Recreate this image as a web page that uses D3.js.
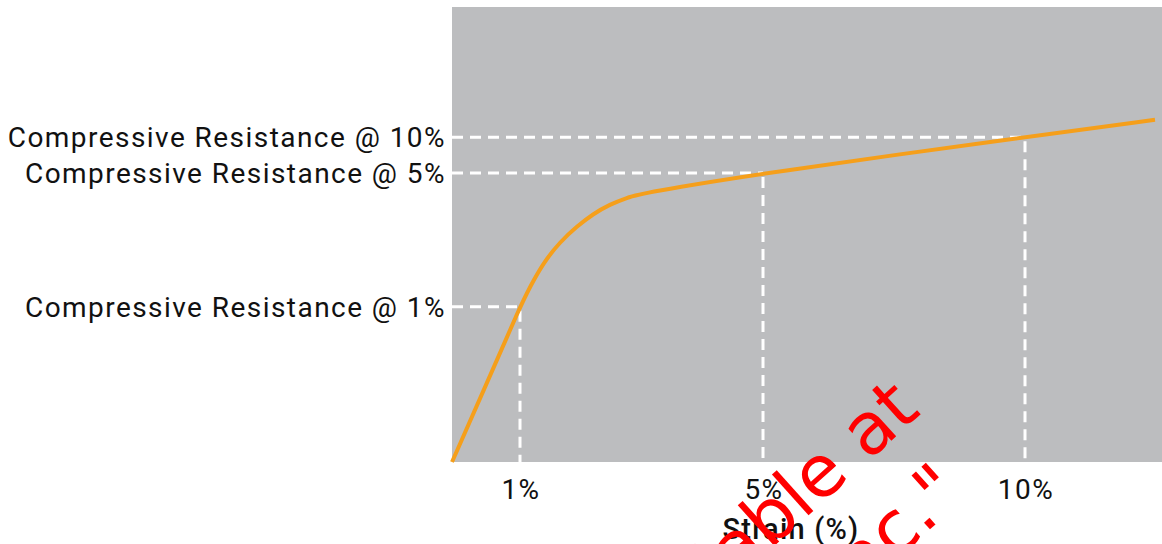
<!DOCTYPE html>
<html>
<head>
<meta charset="utf-8">
<script src="https://cdn.jsdelivr.net/npm/d3@7"></script>
<style>
  html, body { margin: 0; padding: 0; background: #fff; }
  svg { display: block; }
  .lbl  { font-family: Roboto, "Noto Sans", sans-serif; font-size: 28px; fill: #111; letter-spacing: 1.45px; }
  .tick { font-family: Roboto, "Noto Sans", sans-serif; font-size: 28px; fill: #111; letter-spacing: 1.5px; }
  .axt  { font-family: Roboto, "Noto Sans", sans-serif; font-size: 29px; font-weight: 500; fill: #111; letter-spacing: 1.2px; }
  .guide { stroke: #fff; stroke-width: 3; stroke-dasharray: 11 7; fill: none; }
  .wm { font-family: "DejaVu Sans", sans-serif; font-size: 72px; fill: #ff0000; }
</style>
</head>
<body>
<svg id="chart"></svg>
<script>
/* Stress–strain sketch: linear start, knee, then a slow linear rise.
   Strain axis is schematic (not uniform), so x uses a piecewise scale. */

// curve (resistance in % of plot height)
const strain     = [0, 0.5, 1, 1.165, 1.38, 1.66, 1.94, 2.2, 2.48, 2.76, 3.02, 5, 10, 12.5];
const resistance = [0, 16.9, 34.1, 38.5, 43.7, 48.4, 51.8, 54.5, 56.6, 58.1, 59.1, 63.5, 71.4, 75.2];

// marked strains and their labels
const markStrain = [1, 5, 10];
const tickLabels = ['1%', '5%', '10%'];
const markLabels = ['Compressive Resistance @ 1%', 'Compressive Resistance @ 5%', 'Compressive Resistance @ 10%'];
const xTitle = 'Strain (%)';

// schematic axis breaks: equal-ish spacing per marked strain
const xBreaks = [0, 1, 5, 10, 12.5];

// watermark lines (only the tail end falls inside the frame)
const wmLines = ['Available at', 'Inc."'];

const W = 1162, H = 544;
const plot = { left: 452, top: 7, right: W, bottom: 462 };

const svg = d3.select('#chart').attr('width', W).attr('height', H);

const x = d3.scaleLinear().domain(xBreaks)
  .range(xBreaks.map((d, i) => plot.left + [0, 68, 311, 573, 703][i]));
const y = d3.scaleLinear().domain([0, 100]).range([plot.bottom, plot.top]);

const pts = strain.map((s, i) => ({ s, r: resistance[i] }));
const rAt = s => pts.find(p => p.s === s).r;

// grey plot panel
svg.append('rect')
  .attr('x', plot.left).attr('y', plot.top)
  .attr('width', plot.right - plot.left).attr('height', plot.bottom - plot.top)
  .attr('fill', '#bcbdbf');

// dashed guides: from the y edge to the point, then down to the x edge
const guides = svg.append('g');
markStrain.forEach(s => {
  guides.append('line').attr('class', 'guide')
    .attr('x1', plot.left).attr('y1', y(rAt(s))).attr('x2', x(s)).attr('y2', y(rAt(s)));
  guides.append('line').attr('class', 'guide')
    .attr('x1', x(s)).attr('y1', y(rAt(s)) + 4).attr('x2', x(s)).attr('y2', plot.bottom);
});

// the curve (B-spline smooths out reading noise in the knee)
svg.append('path').datum(pts)
  .attr('fill', 'none').attr('stroke', '#f59f1b').attr('stroke-width', 4)
  .attr('stroke-linejoin', 'round')
  .attr('d', d3.line().x(d => x(d.s)).y(d => y(d.r)).curve(d3.curveBasis));

// y labels at the three marked resistances
svg.append('g').selectAll('text').data(markStrain).join('text')
  .attr('class', 'lbl')
  .attr('x', plot.left - 6).attr('y', d => y(rAt(d))).attr('dy', '0.36em')
  .attr('text-anchor', 'end')
  .text((d, i) => markLabels[i]);

// x tick labels
svg.append('g').selectAll('text').data(markStrain).join('text')
  .attr('class', 'tick')
  .attr('x', d => x(d) + 1).attr('y', plot.bottom + 37)
  .attr('text-anchor', 'middle')
  .text((d, i) => tickLabels[i]);

svg.append('text').attr('class', 'axt')
  .attr('x', 791).attr('y', plot.bottom + 77)
  .attr('text-anchor', 'middle')
  .text(xTitle);

// red watermark across the lower right
const wm = svg.append('g').attr('pointer-events', 'none');
[[922, 413], [966, 497]].forEach((p, i) => {
  wm.append('text').attr('class', 'wm')
    .attr('text-anchor', 'end')
    .attr('transform', `translate(${p[0]},${p[1]}) rotate(-42)`)
    .text(wmLines[i]);
});
</script>
</body>
</html>
